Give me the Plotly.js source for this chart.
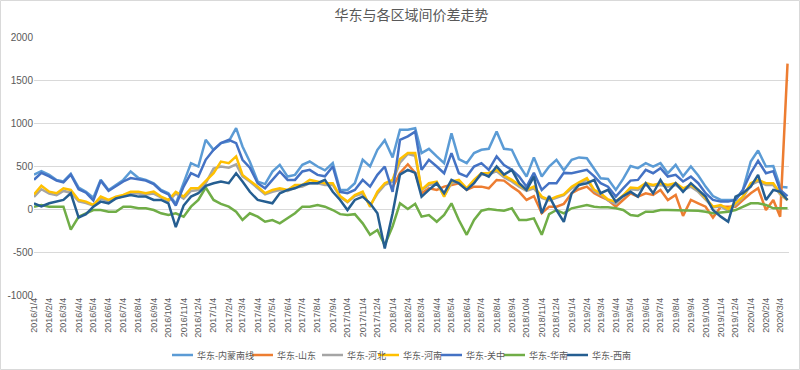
<!DOCTYPE html>
<html>
<head>
<meta charset="utf-8">
<script src="https://cdn.plot.ly/plotly-3.0.1.min.js"></script>
<style>
html,body{margin:0;padding:0;background:#fff;}
#chart{width:800px;height:370px;}
</style>
</head>
<body>
<div id="chart"></div>
<script>
// Tick labels (monthly)
const tickLabels = [
"2016/1/4","2016/2/4","2016/3/4","2016/4/4","2016/5/4","2016/6/4","2016/7/4","2016/8/4","2016/9/4","2016/10/4","2016/11/4","2016/12/4",
"2017/1/4","2017/2/4","2017/3/4","2017/4/4","2017/5/4","2017/6/4","2017/7/4","2017/8/4","2017/9/4","2017/10/4","2017/11/4","2017/12/4",
"2018/1/4","2018/2/4","2018/3/4","2018/4/4","2018/5/4","2018/6/4","2018/7/4","2018/8/4","2018/9/4","2018/10/4","2018/11/4","2018/12/4",
"2019/1/4","2019/2/4","2019/3/4","2019/4/4","2019/5/4","2019/6/4","2019/7/4","2019/8/4","2019/9/4","2019/10/4","2019/11/4","2019/12/4",
"2020/1/4","2020/2/4","2020/3/4"
];
// Sample days within each month (semi-monthly readings)
const sampleDays = [4, 19];

const seriesNames = ["华东-内蒙南线","华东-山东","华东-河北","华东-河南","华东-关中","华东-华南","华东-西南"];
const seriesColors = ["#5B9BD5","#ED7D31","#A5A5A5","#FFC000","#4472C4","#70AD47","#255E91"];

const neimeng = [
400,440,397,338,320,410,250,200,130,340,222,280,338,436,360,338,300,222,183,60,
300,533,494,805,688,766,786,940,727,550,319,290,436,514,377,397,514,552,494,450,
533,220,222,300,572,494,688,800,600,922,922,940,650,700,611,533,880,580,533,650,
688,700,902,700,688,510,377,600,377,494,572,450,572,600,591,470,358,350,222,350,
500,475,533,494,533,416,514,380,494,390,260,150,105,105,105,222,552,680,494,500,
260,250];
const shandong = [
null,null,null,null,null,null,null,null,null,null,null,null,null,null,null,null,null,null,null,null,
null,null,null,null,null,null,null,null,null,null,null,null,null,null,null,null,null,null,null,null,
null,null,null,null,null,null,null,null,250,420,520,420,183,241,222,260,280,300,222,260,
260,241,338,330,260,200,105,150,-50,27,27,60,183,230,260,183,144,105,27,105,
183,144,183,163,222,105,163,-80,105,66,27,-100,27,27,27,105,183,241,-12,105,
-89,1690];
const hebei = [
140,230,180,160,210,190,90,70,40,120,90,120,150,180,180,170,180,130,90,180,
120,210,220,300,470,494,480,520,380,320,240,170,200,220,210,250,260,300,300,280,
280,140,80,150,180,40,180,280,320,540,640,620,220,280,300,150,300,320,230,320,
400,400,440,370,320,260,210,240,130,100,130,160,240,290,340,210,170,100,60,150,
230,220,280,270,280,260,280,220,260,200,110,20,30,-20,50,130,280,320,280,280,
170,100];
const henan = [
170,270,202,183,241,222,105,86,47,144,105,144,163,202,202,183,202,144,105,200,
144,241,241,320,416,552,533,611,397,330,260,183,222,241,222,280,280,338,319,300,
300,150,86,163,202,27,202,300,338,580,650,650,222,300,319,144,319,338,241,338,
416,420,455,390,338,280,222,260,144,105,144,170,260,310,358,222,183,110,86,160,
250,241,300,280,300,280,300,240,280,222,124,27,47,0,66,144,300,338,300,300,
183,105];
const guanzhong = [
340,420,380,330,310,400,230,190,100,330,210,270,320,360,340,330,290,210,170,40,
260,416,377,572,688,766,805,766,572,480,300,241,338,436,338,338,436,455,397,380,
494,200,183,222,338,260,397,494,200,805,844,900,455,572,494,416,650,416,377,494,
533,455,611,510,455,377,260,420,222,300,300,420,416,436,455,380,300,260,144,240,
330,338,455,416,475,377,397,320,377,300,183,105,86,86,105,222,416,560,416,440,
222,150];
const huanan = [
27,47,27,27,27,-240,-90,-50,-12,-12,-31,-31,27,27,8,8,-12,-50,-70,-50,
-89,27,105,250,105,60,27,-31,-128,-50,-89,-148,-128,-167,-109,-50,27,27,47,27,
-12,-60,-70,-60,-167,-300,-245,-420,-200,66,0,60,-89,-70,-148,-70,66,-128,-300,-128,
-20,0,-12,-20,8,-128,-128,-109,-300,-60,-12,-50,8,27,47,27,19,19,8,-12,
-70,-80,-31,-31,-12,-12,-12,-12,-12,-20,-31,-50,-40,-31,-12,27,66,66,47,8,
8,8];
const xinan = [
66,30,66,86,105,183,-100,-60,27,86,66,124,144,163,144,144,105,105,66,-210,
40,144,183,270,300,319,300,416,319,200,105,86,66,183,222,241,280,300,300,338,
200,105,-12,105,144,66,-50,-460,-50,400,455,420,144,222,300,183,338,300,222,300,
416,377,494,400,455,300,222,377,-50,150,-12,-150,183,280,300,338,183,222,86,150,
200,144,300,183,338,200,300,200,300,222,144,-12,-89,-148,144,183,260,397,105,222,
200,105];

const seriesValues = [neimeng, shandong, hebei, henan, guanzhong, huanan, xinan];

function toISO(label, day){
  const p = label.split("/");
  const mm = String(p[1]).padStart(2,"0");
  const dd = String(day).padStart(2,"0");
  return p[0] + "-" + mm + "-" + dd;
}
const tickVals = tickLabels.map(t => toISO(t, 4));
const dates = [];
tickLabels.forEach(t => sampleDays.forEach(d => dates.push(toISO(t, d))));

const traces = seriesNames.map((name, i) => ({
  type: "scatter",
  mode: "lines",
  name: name,
  x: dates,
  y: seriesValues[i],
  line: {color: seriesColors[i], width: 2.5},
  connectgaps: false,
  showlegend: false
}));

const L = 34, R = 11, T = 37, B = 75;
const W = 800, H = 370;
const pw = W - L - R, ph = H - T - B;
const px2x = p => (p - L) / pw;             // pixel x -> paper x
const px2y = p => (H - B - p) / ph;          // pixel y -> paper y

// Legend (drawn as lines + text below the plot)
const legendStartPx = [172, 252, 322, 378, 441, 504, 567];
const legendRowPx = 355;
const legendShapes = seriesNames.map((n, i) => ({
  type: "line", xref: "paper", yref: "paper",
  x0: px2x(legendStartPx[i]), x1: px2x(legendStartPx[i] + 21),
  y0: px2y(legendRowPx), y1: px2y(legendRowPx),
  line: {color: seriesColors[i], width: 2.5}
}));
const legendTexts = seriesNames.map((n, i) => ({
  text: n, xref: "paper", yref: "paper",
  x: px2x(legendStartPx[i] + 23), y: px2y(legendRowPx),
  xanchor: "left", yanchor: "middle", showarrow: false,
  font: {size: 9, color: "#595959", family: "'Noto Sans CJK SC', sans-serif"}
}));

const layout = {
  width: W, height: H,
  margin: {l: L, r: R, t: T, b: B, pad: 0, autoexpand: false},
  paper_bgcolor: "#ffffff",
  plot_bgcolor: "#ffffff",
  font: {family: "'Noto Sans CJK SC', 'Liberation Sans', sans-serif", color: "#595959", size: 10},
  title: {
    text: "华东与各区域间价差走势",
    x: 0.5, xanchor: "center", xref: "paper",
    y: 1 - 15 / H, yanchor: "middle", yref: "container",
    font: {family: "'Noto Sans CJK SC', sans-serif", size: 14, color: "#595959"}
  },
  xaxis: {
    type: "date",
    range: ["2016-01-04", "2020-03-22"],
    tickvals: tickVals,
    ticktext: tickLabels,
    tickangle: -90,
    tickfont: {size: 9, color: "#595959", family: "'Liberation Sans', sans-serif"},
    showgrid: false,
    showline: false,
    zeroline: false,
    ticks: "",
    automargin: false
  },
  yaxis: {
    range: [-1000, 2000],
    tickvals: [-1000, -500, 0, 500, 1000, 1500, 2000],
    ticktext: ["-1000", "-500", "0", "500", "1000", "1500", "2000"],
    tickfont: {size: 10, color: "#595959", family: "'Liberation Sans', sans-serif"},
    showgrid: true,
    gridcolor: "#D9D9D9",
    gridwidth: 1,
    zeroline: true,
    zerolinecolor: "#D9D9D9",
    zerolinewidth: 1,
    showline: false,
    ticks: "",
    automargin: false
  },
  showlegend: false,
  annotations: legendTexts,
  shapes: [{
    type: "rect", xref: "paper", yref: "paper",
    x0: px2x(0.5), x1: px2x(W - 0.5),
    y0: px2y(H - 0.5), y1: px2y(0.5),
    line: {color: "#D9D9D9", width: 1},
    fillcolor: "rgba(0,0,0,0)",
    layer: "below"
  }].concat(legendShapes)
};

Plotly.newPlot("chart", traces, layout, {displayModeBar: false, staticPlot: true});
</script>
</body>
</html>
